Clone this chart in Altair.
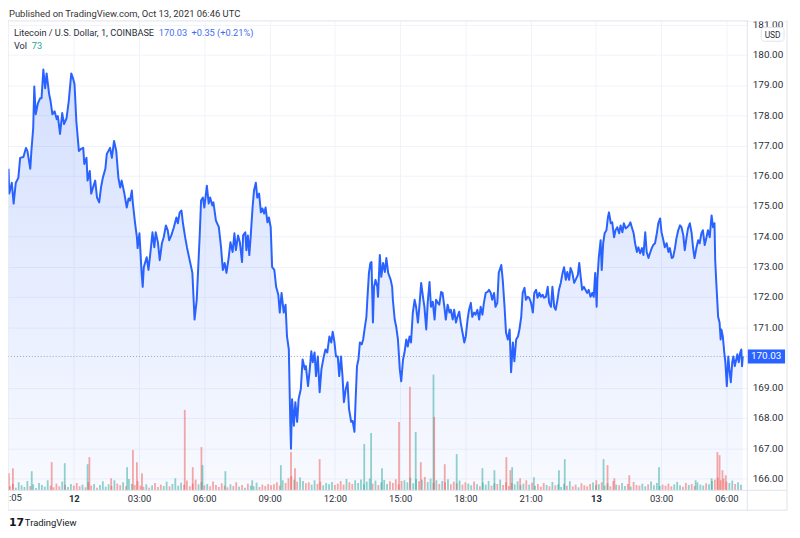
import altair as alt
import pandas as pd
import numpy as np

FONT = "Roboto"
TXT = "#2a2e39"
GRID = "#f0f3fa"
FRAME = "#e0e3eb"
BLUE = "#2962ff"

# ---- price series: minutes since 2021-10-11 21:00 UTC, LTC/USD close ----
price_t = [
    0, 2, 9, 14, 20, 27, 32, 41, 48, 52,
    60, 63, 68, 71, 75, 81, 87, 91, 96, 101,
    105, 112, 116, 121, 127, 133, 136, 142, 148, 153,
    160, 166, 173, 178, 182, 187, 194, 200, 206, 209,
    215, 218, 224, 228, 233, 239, 244, 250, 255, 260,
    267, 271, 280, 285, 291, 297, 303, 308, 312, 319,
    326, 331, 335, 340, 343, 349, 354, 356, 361, 367,
    370, 373, 381, 386, 392, 397, 402, 406, 412, 417,
    423, 428, 434, 439, 443, 449, 456, 463, 467, 472,
    477, 481, 487, 492,
    507, 513, 519, 527, 531, 536, 540, 547, 552, 556,
    562, 565, 572, 580, 586, 591, 596, 601, 607, 612,
    618, 623, 627, 633, 638, 644, 647, 653, 656, 660,
    664, 668, 673, 677, 682, 686, 691, 696, 700, 705,
    709, 714, 718, 723, 727, 733, 738, 744, 748, 753,
    759, 764, 768, 773, 777, 779, 782, 787, 791, 796,
    800, 806, 811, 817, 820, 826, 830, 835, 839, 844,
    848, 853, 858, 863, 869, 874, 879, 885, 890, 894,
    899, 903, 908, 912, 917, 921, 925, 930, 935, 939,
    945, 949, 954, 957, 961, 965, 969, 974, 978, 983,
    987, 990, 994, 998, 1001, 1005, 1008, 1012, 1017, 1019,
    1024, 1028, 1033, 1038, 1042, 1047, 1054, 1058, 1060, 1065,
    1069, 1074, 1079, 1083, 1088, 1092, 1097, 1101, 1106, 1110,
    1115, 1120, 1124, 1129, 1133, 1138, 1143, 1147, 1152, 1156,
    1161, 1165, 1170, 1175, 1179, 1184, 1188, 1193, 1197, 1202,
    1206, 1211, 1216, 1220, 1225, 1229, 1234, 1238, 1243, 1247,
    1252, 1257, 1261, 1266, 1270, 1275, 1279, 1284, 1288, 1293,
    1298, 1302, 1307, 1311, 1316, 1321, 1325, 1330, 1334, 1339,
    1343, 1348, 1352, 1359, 1363, 1368, 1372, 1377, 1382, 1386,
    1391, 1395, 1400, 1405, 1409, 1414, 1418, 1423, 1427, 1432,
    1436, 1441, 1446, 1450, 1455, 1459, 1464, 1468, 1473, 1477,
    1482, 1487, 1491, 1496, 1500, 1505, 1509, 1514, 1518, 1523,
    1528, 1532, 1537, 1541, 1546, 1550, 1555, 1560, 1564,
    1570, 1574, 1578, 1582, 1587, 1591, 1596, 1600, 1605, 1610,
    1614, 1618, 1622, 1624, 1628, 1633, 1636, 1640, 1644, 1649,
    1653, 1656, 1661, 1665, 1670, 1674, 1679, 1684, 1688, 1693,
    1697, 1702, 1706, 1711, 1715, 1719, 1724, 1728, 1733, 1737,
    1742, 1747, 1751, 1756, 1760, 1765, 1769, 1774, 1778, 1783,
    1788, 1792, 1797, 1801, 1806, 1810, 1815, 1820, 1824, 1829,
    1833, 1838, 1842, 1847, 1852, 1856, 1861, 1865, 1870, 1874,
    1879, 1884, 1888, 1892, 1897, 1902, 1906, 1911, 1915, 1920,
    1925, 1929, 1934, 1937, 1939, 1943, 1947, 1949, 1952, 1955,
    1957, 1961, 1964, 1966, 1970, 1974, 1977, 1981, 1985, 1988,
    1992, 1996, 1999, 2003, 2007, 2010, 2014, 2018, 2021, 2023,
    2025,
]
price_v = [
    176.23, 175.41, 175.77, 175.08, 175.77, 175.93, 176.59, 176.62, 176.92, 176.82,
    176.23, 176.82, 177.57, 178.95, 178.03, 178.39, 178.56, 178.56, 179.51, 178.89,
    179.38, 178.69, 178.46, 178.03, 178.13, 177.87, 177.97, 177.38, 178.07, 177.71,
    177.90, 178.46, 179.38, 179.21, 179.02, 177.80, 176.82, 176.89, 176.92, 176.39,
    176.59, 175.84, 176.16, 175.41, 175.61, 175.84, 175.28, 175.12, 175.61, 175.93,
    176.23, 176.72, 176.92, 176.59, 177.15, 176.82, 175.93, 175.61, 175.84, 175.44,
    174.95, 175.25, 175.18, 175.51, 175.08, 174.43, 173.97, 173.61, 174.10, 172.79,
    172.33, 172.98, 173.31, 172.89, 173.54, 174.13, 173.64, 174.13, 173.80, 173.21,
    173.77, 173.97, 174.36, 174.20, 173.87, 174.03, 174.30, 174.62, 174.43, 174.79,
    174.85, 174.43, 173.97, 173.64,
    172.79, 171.25, 171.90, 173.97, 175.18, 175.28, 174.95, 175.67, 175.08, 175.28,
    175.02, 175.12, 174.52, 174.30, 173.64, 172.89, 173.12, 172.79, 173.28, 173.80,
    173.48, 174.10, 173.54, 174.03, 173.80, 173.15, 174.03, 174.13, 173.54, 174.03,
    173.38, 174.03, 174.95, 175.51, 175.77, 175.28, 175.41, 174.79, 174.92, 174.75,
    174.95, 174.46, 174.62, 174.30, 172.98, 172.89, 172.33, 172.07, 171.48, 172.13,
    171.48, 171.74, 170.69, 170.26, 167.87, 166.98, 168.62, 167.74, 168.52, 167.87,
    168.62, 168.95, 169.93, 169.61, 169.71, 169.05, 169.51, 170.20, 169.84, 170.16,
    169.38, 170.03, 168.85, 169.61, 170.00, 170.26, 170.16, 170.69, 170.49, 170.85,
    170.49, 170.03, 170.03, 169.38, 170.03, 169.38, 168.52, 168.95, 169.18, 168.30,
    167.87, 167.90, 167.54, 168.52, 169.71, 169.93, 170.49, 170.43, 170.59, 171.02,
    171.34, 172.00, 172.79, 173.12, 173.15, 171.15, 172.33, 172.56, 172.33, 172.00,
    173.38, 172.66, 173.12, 172.82, 173.28, 172.79, 172.56, 172.33, 171.90, 171.25,
    171.02, 170.59, 169.61, 169.21, 169.93, 170.16, 170.59, 170.36, 170.69, 170.49,
    171.48, 171.90, 171.67, 171.15, 171.67, 172.46, 172.00, 171.67, 170.92, 171.80,
    172.49, 171.67, 171.84, 171.25, 171.90, 171.80, 171.74, 172.16, 172.13, 171.67,
    171.25, 171.74, 171.48, 171.57, 171.25, 171.57, 171.15, 171.34, 171.51, 171.15,
    170.82, 170.49, 170.69, 171.25, 171.57, 171.80, 171.34, 171.48, 171.41, 171.57,
    171.25, 171.67, 171.41, 171.80, 172.13, 172.16, 172.23, 172.13, 171.90, 172.13,
    171.67, 171.80, 172.79, 173.05, 172.56, 171.67, 170.82, 170.59, 170.92, 169.51,
    170.49, 169.87, 170.59, 170.69, 170.92, 171.34, 172.13, 172.30, 171.90, 172.00,
    171.97, 171.80, 171.48, 172.13, 172.23, 171.97, 172.13, 172.00, 172.07, 171.97,
    172.00, 172.33, 171.80, 171.67, 172.33, 171.67, 171.57, 171.90, 172.23, 172.46,
    172.79, 172.98, 172.56, 172.82, 172.56, 172.95, 172.79, 172.46, 172.56,
    172.72, 173.12, 172.66, 172.23, 172.33, 172.23, 172.13, 172.23, 172.00, 172.13,
    172.00, 172.79, 171.67, 172.56, 173.31, 173.87, 172.89, 173.77, 174.10, 174.20,
    174.62, 174.79, 174.43, 174.46, 173.97, 174.20, 174.30, 174.10, 174.36, 174.13,
    174.43, 174.26, 174.30, 174.36, 174.46, 174.30, 174.10, 173.77, 173.48, 173.64,
    173.44, 173.61, 173.38, 174.13, 173.48, 173.28, 173.44, 173.61, 173.71, 173.77,
    174.10, 174.43, 174.59, 174.13, 173.87, 173.64, 173.77, 173.48, 173.61, 173.28,
    173.31, 173.61, 173.93, 174.20, 174.36, 174.30, 174.03, 173.54, 173.97, 174.26,
    174.43, 174.10, 173.61, 173.28, 173.61, 173.87, 173.77, 174.10, 174.20, 173.71,
    173.97, 174.20, 173.97, 174.43, 174.69, 174.30, 174.43, 173.21, 172.46, 171.80,
    171.34, 171.15, 170.59, 170.92, 170.69, 170.16, 169.84, 169.05, 170.03, 169.61,
    169.18, 169.84, 170.03, 169.71, 169.93, 170.10, 169.84, 170.16, 170.26, 169.71,
    170.03,
]

# ---- volume: notable spikes (minutes, LTC, up/down) ----
spike_t = [1, 12, 64, 119, 155, 218, 223, 283, 327, 343,
           354, 368, 486, 508, 532, 535, 598, 672, 751, 779,
           790, 858, 981, 1000, 1030, 1077, 1107, 1123, 1137, 1172,
           1174, 1203, 1236, 1307, 1340, 1373, 1384, 1389, 1411, 1449,
           1518, 1534, 1621, 1641, 1652, 1671, 1712, 1794, 1895, 1939,
           1955, 1961, 1969, 1978]
spike_vol = [255, 330, 285, 420, 405, 390, 495, 180, 345, 600,
             420, 255, 1200, 345, 645, 375, 285, 150, 375, 570,
             330, 465, 690, 855, 330, 1020, 1545, 870, 420, 1725,
             1095, 390, 540, 330, 300, 495, 300, 345, 180, 195,
             300, 465, 150, 465, 375, 180, 225, 345, 150, 180,
             570, 525, 300, 225]
spike_dir = ["down", "down", "up", "down", "up", "up", "down", "down", "up", "down",
             "down", "down", "down", "down", "down", "up", "up", "up", "up", "down",
             "down", "down", "up", "up", "up", "down", "down", "up", "down", "up",
             "down", "down", "up", "up", "up", "down", "down", "up", "down", "up",
             "up", "up", "down", "up", "down", "down", "down", "up", "up", "up",
             "down", "down", "down", "down"]

# ---- volume: background bars, one every 8 minutes from minute 4 (LTC) ----
bg_vol = [
    60, 95, 40, 120, 75, 50, 140, 65, 90, 35, 110, 80, 55, 150, 70, 45, 100, 60, 130, 85, 50, 95, 70,
    110, 60, 85, 45, 125, 70, 95, 40, 80, 135, 55, 90, 65, 150, 100, 75, 120, 60, 170, 95, 80, 140, 70,
    55, 90, 40, 75, 110, 50, 85, 65, 130, 60, 95, 180, 70, 115, 85, 145, 60, 100, 160, 90, 125, 75,
    95, 60, 130, 80, 50, 105, 70, 45, 90, 65, 120, 55, 80, 40, 100, 70, 60, 115, 50, 85, 65, 95, 75,
    90, 120, 70, 150, 110, 180, 210, 160, 130, 190, 140, 105, 120, 85, 150, 95, 130, 75, 110, 90, 125, 80,
    100, 140, 85, 170, 120, 95, 150, 110, 160, 90, 130, 175, 100, 145, 80, 120, 155, 95, 135, 110, 165, 90, 140,
    150, 120, 190, 105, 170, 135, 160, 200, 125, 175, 110, 150, 95, 140, 120, 165, 90, 130, 105, 145, 85, 120,
    100, 75, 130, 90, 60, 115, 85, 140, 70, 105, 95, 160, 80, 120, 65, 110, 90, 135, 75, 100, 150, 85, 115,
    70, 95, 55, 110, 80, 60, 125, 75, 90, 50, 100, 70, 135, 60, 85, 45, 105, 75, 60, 95, 115, 80,
    90, 120, 70, 105, 60, 140, 85, 75, 110, 65, 95, 55, 125, 80, 70, 100, 60, 90, 130, 75, 110, 65, 85,
    70, 100, 60, 90, 125, 75, 55, 110, 80, 95, 65, 120, 85, 70, 105, 90, 140, 160, 190, 150, 175, 130, 110, 145, 95, 120, 85,
]
bg_t = [4 + 8 * i for i in range(len(bg_vol))]

# ---- axes ----
x_tick_values = [180, 360, 540, 720, 900, 1080, 1260, 1440, 1620, 1800, 1980]
x_tick_labels = ["12", "03:00", "06:00", "09:00", "12:00", "15:00", "18:00", "21:00", "13", "03:00", "06:00"]
# 170.00 is hidden behind the last-price badge in the reference
y_tick_values = [166, 167, 168, 169, 171, 172, 173, 174, 175, 176, 177, 178, 179, 180, 181]
last_price = 170.03

T_DOMAIN = [-1.5, 2037.6]
P_DOMAIN = [165.607, 181.115]
V_DOMAIN = [0, 7000]
W, H = 745, 473

price_df = pd.DataFrame({"t": price_t, "price": price_v})


def bar_dir(t):
    a = np.interp(t, price_t, price_v)
    b = np.interp(t - 8, price_t, price_v)
    return "up" if a >= b else "down"


vol_df = pd.concat([
    pd.DataFrame({"t": bg_t, "vol": bg_vol, "dir": [bar_dir(t) for t in bg_t]}),
    pd.DataFrame({"t": spike_t, "vol": spike_vol, "dir": spike_dir}),
], ignore_index=True)

label_expr = "".join(
    f"datum.value == {v} ? '{l}' : " for v, l in zip(x_tick_values, x_tick_labels)
) + "''"
bold_test = " || ".join(
    f"datum.value == {v}" for v, l in zip(x_tick_values, x_tick_labels) if ":" not in l
)

xscale = alt.Scale(domain=T_DOMAIN, nice=False, zero=False)
yscale = alt.Scale(domain=P_DOMAIN, nice=False, zero=False)

x_axis = alt.Axis(
    values=x_tick_values, labelExpr=label_expr, grid=True, gridColor=GRID,
    domain=False, ticks=False, labelPadding=3, labelFontSize=9.5, labelColor=TXT,
    labelFont=FONT, labelFlush=False, labelOverlap=False, title=None, zindex=0,
    labelFontWeight={"condition": {"test": bold_test, "value": "bold"}, "value": "normal"},
)
y_axis = alt.Axis(
    orient="right", values=y_tick_values, format=".2f", grid=True, gridColor=GRID,
    domain=False, ticks=False, labelPadding=5, labelFontSize=10, labelColor=TXT,
    labelFont=FONT, labelFlush=False, labelOverlap=False, title=None, zindex=0,
)

grad = alt.Gradient(
    gradient="linear",
    stops=[alt.GradientStop(color="rgba(41,98,255,0.20)", offset=0),
           alt.GradientStop(color="rgba(41,98,255,0.03)", offset=1)],
    x1=1, x2=1, y1=0, y2=1,
)

area = alt.Chart(price_df).mark_area(color=grad).encode(
    x=alt.X("t:Q", scale=xscale, axis=x_axis),
    y=alt.Y("price:Q", scale=yscale, axis=y_axis),
    y2=alt.datum(P_DOMAIN[0]),
)

vol = alt.Chart(vol_df).mark_rule(strokeWidth=1.8, opacity=0.5).encode(
    x=alt.X("t:Q", scale=xscale),
    y=alt.Y("vol:Q", scale=alt.Scale(domain=V_DOMAIN, nice=False, zero=True), axis=None),
    y2=alt.datum(0),
    color=alt.Color("dir:N", scale=alt.Scale(domain=["up", "down"], range=["#26a69a", "#ef5350"]), legend=None),
)

ONE = pd.DataFrame({"k": [0]})

dotted = alt.Chart(ONE).mark_rule(color="#9aa3bd", strokeDash=[1, 2], strokeWidth=1).encode(
    y=alt.YDatum(last_price, scale=yscale, axis=None),
)
line = alt.Chart(price_df).mark_line(color=BLUE, strokeWidth=2, strokeJoin="round").encode(
    x=alt.X("t:Q", scale=xscale),
    y=alt.Y("price:Q", scale=yscale, axis=None),
)


def rule(x1, x2, y1, y2, color=FRAME):
    return alt.Chart(ONE).mark_rule(color=color, strokeWidth=1).encode(
        x=alt.value(x1), x2=alt.value(x2), y=alt.value(y1), y2=alt.value(y2))


def text(s, x, y, color=TXT, size=9.5, weight="normal", align="left", font=FONT):
    return alt.Chart(ONE).mark_text(
        text=s, align=align, baseline="middle", fontSize=size, fontWeight=weight,
        color=color, font=font,
    ).encode(x=alt.value(x), y=alt.value(y))


cover = alt.Chart(ONE).mark_rect(color="white").encode(
    x=alt.value(746), x2=alt.value(784), y=alt.value(-11), y2=alt.value(0))
usd_box = alt.Chart(ONE).mark_rect(fill="white", stroke=FRAME, strokeWidth=1, cornerRadius=3).encode(
    x=alt.value(759), x2=alt.value(782), y=alt.value(6.5), y2=alt.value(20.5))
price_box = alt.Chart(ONE).mark_rect(color=BLUE).encode(
    x=alt.value(745.5), x2=alt.value(783),
    y=alt.YDatum(last_price + 0.23, scale=yscale, axis=None),
    y2=alt.datum(last_price - 0.23),
)
price_txt = alt.Chart(ONE).mark_text(
    text=f"{last_price:.2f}", align="center", baseline="middle", fontSize=10, color="white", font=FONT,
).encode(x=alt.value(764), y=alt.YDatum(last_price, scale=yscale, axis=None))

frame = [
    rule(0, 785, 0, 0), rule(0, 0, 0, 493), rule(745, 745, 0, 493), rule(785, 785, 0, 493),
    rule(0, 785, 473, 473), rule(0, 785, 493, 493),
]

texts = [
    text("Published on TradingView.com, Oct 13, 2021 06:46 UTC", 1, -7, color="#333333", size=9.5),
    text("Litecoin / U.S. Dollar, 1, COINBASE", 6, 12, size=9.3),
    text("170.03", 152, 12, color="#3f6df2", size=9.3),
    text("+0.35 (+0.21%)", 185, 12, color="#3f6df2", size=9.3),
    text("Vol", 6, 25, size=9.3),
    text("73", 24, 25, color="#26a69a", size=9.3),
    text(":05", 1, 481, size=9.5),
    text("USD", 770.5, 14, size=8.5, align="center"),
    text("17", 1, 506, color="#131722", size=11, weight="bold", font="DejaVu Sans"),
    text("TradingView", 17, 506, color="#131722", size=9.5),
]

top = alt.layer(dotted, line, *frame, cover, usd_box, price_box, price_txt, *texts)

chart = alt.layer(area, vol, top).resolve_scale(y="independent").properties(
    width=W, height=H,
    padding={"left": 0, "top": 11, "right": 45, "bottom": 45},
    autosize=alt.AutoSizeParams(type="none"),
    background="white",
).configure_view(stroke=None)

chart.save("out.html", embed_options={"renderer": "svg", "actions": False})
